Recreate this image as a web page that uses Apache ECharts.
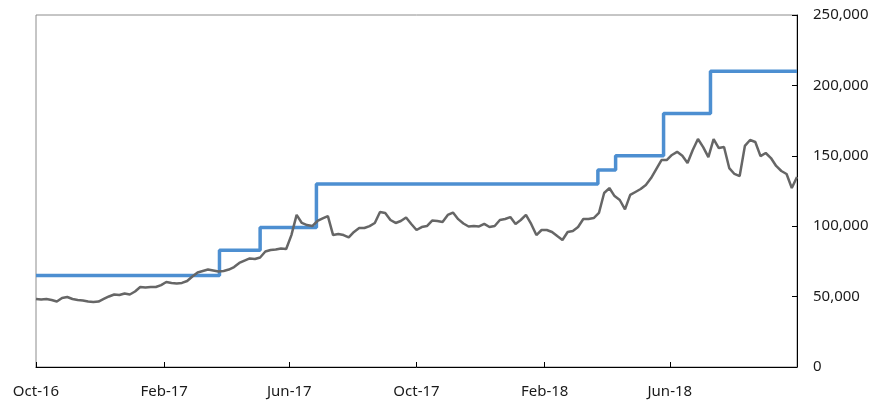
<!DOCTYPE html>
<html>
<head>
<meta charset="utf-8">
<script src="https://cdn.jsdelivr.net/npm/echarts@6/dist/echarts.min.js"></script>
<style>
  html, body { margin: 0; padding: 0; background: #fff; }
  #chart { width: 879px; height: 403px; }
</style>
</head>
<body>
<div id="chart"></div>
<script>
// x range (daily categories)
const startDate = '2016-10-01'
const endDate = '2018-10-01'

// tick dates and their labels
const tickDates = ['2016-10-01', '2017-02-01', '2017-06-01', '2017-10-01', '2018-02-01', '2018-06-01']
const tickLabels = ['Oct-16', 'Feb-17', 'Jun-17', 'Oct-17', 'Feb-18', 'Jun-18']

// grey series: one reading every 5 days from startDate
const grayStepDays = 5
const grayValues = [
  48300, 47900, 48300, 47600, 46500, 49000, 49700, 48300, 47600, 47200,
  46500, 46200, 46500, 48300, 50100, 51500, 51100, 52200, 51500, 53600,
  56800, 56500, 56800, 56800, 58200, 60400, 59700, 59300, 59700, 61100,
  64300, 67100, 68200, 69200, 68500, 67800, 68200, 69200, 71000, 73900,
  75600, 77100, 76700, 77800, 82000, 83100, 83400, 84200, 83800, 93700,
  108000, 102300, 100800, 100100, 103700, 105500, 107200, 93700, 94500, 93700,
  92000, 95900, 98700, 98700, 100100, 102300, 110100, 109400, 104400, 102300,
  103700, 106200, 101600, 97300, 99400, 100100, 104000, 103700, 103000, 108000,
  109700, 105000, 101900, 99800, 100100, 99800, 101600, 99400, 100100, 104400,
  105100, 106500, 101600, 104400, 108000, 101600, 93700, 97300, 97300, 95900,
  93000, 90200, 95900, 96600, 99400, 105100, 105100, 105800, 109400, 123600,
  127100, 121400, 118600, 112000, 122200, 124300, 126400, 129300, 134200, 140600,
  147000, 147000, 150600, 152800, 150000, 144900, 154100, 161900, 156200, 149100,
  161900, 155500, 156200, 141300, 137100, 135600, 157000, 161200, 159800, 149800,
  152000, 148400, 142800, 139200, 137100, 127100, 134900
]

// blue step series: date of each change and the level from then on
const stepDates = ['2016-10-01', '2017-03-26', '2017-05-04', '2017-06-27', '2018-03-24', '2018-04-10', '2018-05-26', '2018-07-10', '2018-10-01']
const stepLevels = [65000, 83000, 99000, 130000, 140000, 150000, 180000, 210000, 210000]

function fmt(d) {
  return d.toISOString().slice(0, 10)
}
function addDays(s, n) {
  let d = new Date(s + 'T00:00:00Z')
  d.setUTCDate(d.getUTCDate() + n)
  return fmt(d)
}

let days = []
for (let s = startDate; s <= endDate; s = addDays(s, 1)) days.push(s)

const grayData = grayValues.map((v, i) => [addDays(startDate, i * grayStepDays), v])
const blueData = stepDates.map((d, i) => [d, stepLevels[i]])

const isTick = (idx, val) => tickDates.indexOf(val) >= 0

let chart = echarts.init(document.getElementById('chart'))
chart.setOption({
  animation: false,
  grid: {
    left: 36, right: 82, top: 15, bottom: 36,
    show: true, borderColor: '#8c8c8c', borderWidth: 1
  },
  xAxis: {
    type: 'category',
    data: days,
    boundaryGap: false,
    axisLine: { lineStyle: { color: '#000', width: 1 } },
    axisTick: { inside: true, length: 5, interval: isTick, lineStyle: { color: '#000' } },
    axisLabel: {
      interval: isTick,
      hideOverlap: false,
      margin: 17,
      color: '#1a1a1a',
      fontFamily: 'Noto Sans',
      fontSize: 15,
      formatter: v => tickLabels[tickDates.indexOf(v)]
    },
    splitLine: { show: false }
  },
  yAxis: {
    type: 'value',
    position: 'right',
    min: 0, max: 250000, interval: 50000,
    axisLine: { show: true, lineStyle: { color: '#000', width: 1 } },
    axisTick: { show: true, inside: true, length: 5, lineStyle: { color: '#000' } },
    axisLabel: {
      margin: 16,
      color: '#1a1a1a',
      fontFamily: 'Noto Sans',
      fontSize: 15,
      formatter: v => v.toLocaleString('en-US')
    },
    splitLine: { show: false }
  },
  series: [
    {
      name: 'Steps',
      type: 'line',
      step: 'end',
      data: blueData,
      symbol: 'none',
      lineStyle: { color: '#4d8fd1', width: 3.5 }
    },
    {
      name: 'Price',
      type: 'line',
      data: grayData,
      symbol: 'none',
      lineStyle: { color: '#666', width: 2.5 }
    }
  ]
})
</script>
</body>
</html>
